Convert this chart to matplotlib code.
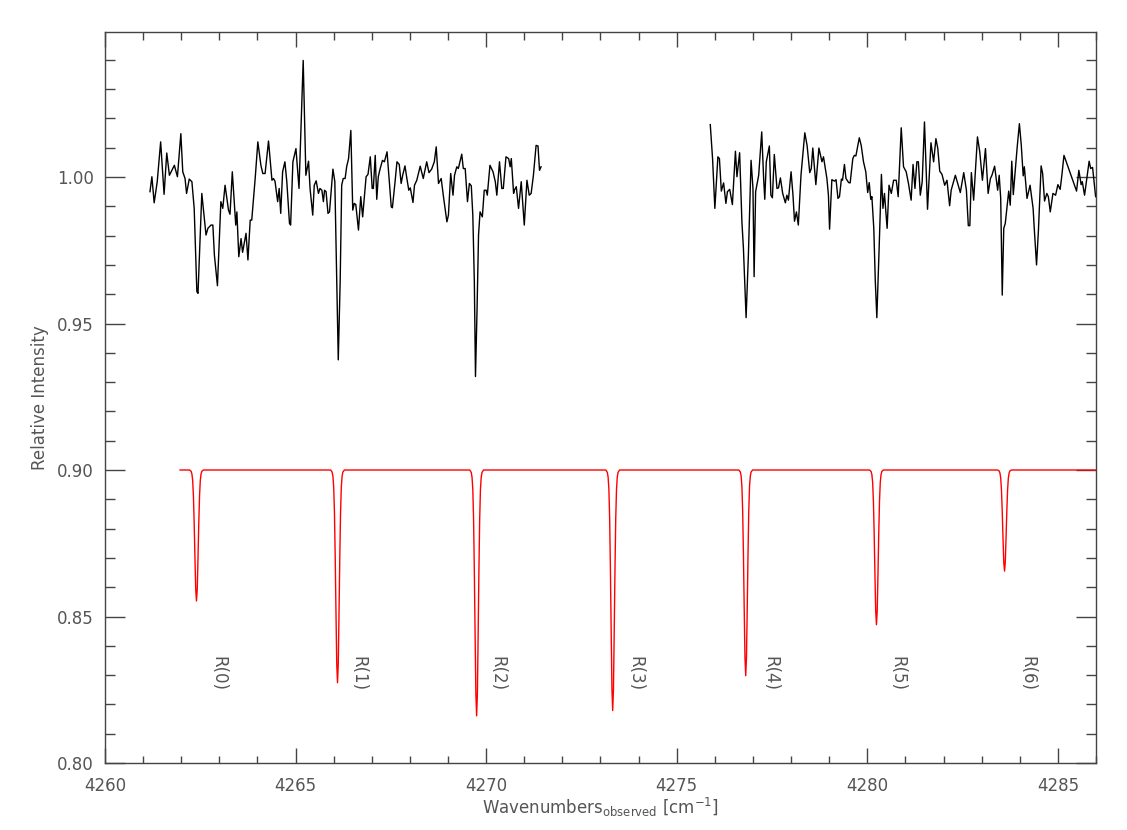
import numpy as np
import matplotlib
matplotlib.use("Agg")
import matplotlib.pyplot as plt
from matplotlib.ticker import MultipleLocator, FixedLocator

# ---------------- data ----------------
# observed spectrum, first segment
obs1_x = [4261.18, 4261.23, 4261.29, 4261.37, 4261.46, 4261.55, 4261.62, 4261.69, 4261.82, 4261.90,
          4261.99, 4262.04, 4262.10, 4262.14, 4262.21, 4262.28, 4262.34, 4262.41, 4262.44, 4262.54,
          4262.65, 4262.70, 4262.78, 4262.83, 4262.87, 4262.95, 4263.04, 4263.09, 4263.15, 4263.24,
          4263.28, 4263.34, 4263.43, 4263.46, 4263.51, 4263.57, 4263.61, 4263.70, 4263.75, 4263.81,
          4263.85, 4263.94, 4264.01, 4264.09, 4264.14, 4264.20, 4264.29, 4264.38, 4264.42, 4264.46,
          4264.53, 4264.57, 4264.61, 4264.66, 4264.72, 4264.77, 4264.84, 4264.87, 4264.93, 4265.01,
          4265.09, 4265.14, 4265.20, 4265.27, 4265.34, 4265.38, 4265.45, 4265.49, 4265.54, 4265.60,
          4265.64, 4265.69, 4265.73, 4265.76, 4265.80, 4265.85, 4265.89, 4265.98, 4266.03, 4266.08,
          4266.12, 4266.17, 4266.21, 4266.25, 4266.30, 4266.34, 4266.39, 4266.45, 4266.50, 4266.54,
          4266.58, 4266.65, 4266.71, 4266.76, 4266.85, 4266.90, 4266.96, 4267.01, 4267.04, 4267.09,
          4267.13, 4267.17, 4267.22, 4267.28, 4267.33, 4267.40, 4267.46, 4267.51, 4267.54, 4267.61,
          4267.66, 4267.72, 4267.77, 4267.81, 4267.87, 4267.92, 4267.97, 4268.01, 4268.08, 4268.12,
          4268.18, 4268.27, 4268.35, 4268.44, 4268.50, 4268.57, 4268.64, 4268.69, 4268.75, 4268.82,
          4268.88, 4268.97, 4269.01, 4269.07, 4269.13, 4269.17, 4269.23, 4269.27, 4269.36, 4269.40,
          4269.45, 4269.51, 4269.56, 4269.61, 4269.65, 4269.69, 4269.72, 4269.76, 4269.80, 4269.84,
          4269.90, 4269.95, 4270.00, 4270.03, 4270.10, 4270.18, 4270.24, 4270.28, 4270.35, 4270.41,
          4270.45, 4270.52, 4270.59, 4270.63, 4270.66, 4270.72, 4270.74, 4270.79, 4270.85, 4270.92,
          4271.00, 4271.07, 4271.13, 4271.18, 4271.24, 4271.31, 4271.36, 4271.40, 4271.44]
obs1_y = [0.9950, 1.0001, 0.9912, 0.9984, 1.0120, 0.9941, 1.0082, 1.0006, 1.0040, 1.0001,
          1.0148, 1.0018, 0.9995, 0.9944, 0.9993, 0.9984, 0.9893, 0.9609, 0.9603, 0.9944,
          0.9802, 0.9825, 0.9836, 0.9836, 0.9734, 0.9629, 0.9916, 0.9893, 0.9972, 0.9887,
          0.9873, 1.0018, 0.9836, 0.9881, 0.9728, 0.9790, 0.9743, 0.9808, 0.9717, 0.9853,
          0.9853, 0.9995, 1.0120, 1.0040, 1.0012, 1.0012, 1.0123, 0.9989, 0.9995, 0.9986,
          0.9916, 0.9961, 0.9876, 1.0018, 1.0052, 0.9984, 0.9842, 0.9836, 1.0052, 1.0097,
          0.9961, 1.0165, 1.0398, 1.0006, 1.0054, 0.9961, 0.9870, 0.9972, 0.9987, 0.9944,
          0.9961, 0.9955, 0.9916, 0.9955, 0.9950, 0.9876, 0.9881, 1.0027, 0.9984, 0.9643,
          0.9376, 0.9644, 0.9972, 0.9995, 0.9995, 1.0035, 1.0063, 1.0159, 0.9887, 0.9910,
          0.9906, 0.9819, 0.9933, 0.9864, 1.0001, 1.0009, 1.0069, 0.9961, 0.9961, 1.0074,
          0.9924, 1.0001, 1.0029, 1.0057, 1.0052, 1.0086, 0.9984, 0.9898, 0.9895, 0.9984,
          1.0052, 1.0043, 0.9978, 1.0006, 1.0038, 0.9995, 0.9955, 0.9963, 0.9913, 0.9972,
          0.9989, 1.0037, 0.9995, 1.0052, 1.0015, 1.0027, 1.0052, 1.0103, 0.9978, 0.9995,
          0.9933, 0.9847, 0.9870, 1.0012, 0.9938, 1.0006, 1.0035, 1.0029, 1.0078, 1.0029,
          1.0029, 0.9916, 0.9978, 0.9970, 0.9870, 0.9643, 0.9319, 0.9541, 0.9802, 0.9881,
          0.9864, 0.9955, 0.9955, 0.9938, 1.0040, 1.0018, 0.9984, 0.9938, 1.0052, 0.9961,
          0.9961, 1.0069, 1.0063, 1.0035, 1.0063, 0.9944, 0.9955, 0.9967, 0.9893, 0.9984,
          0.9836, 0.9989, 0.9938, 0.9944, 1.0006, 1.0108, 1.0106, 1.0023, 1.0035]

# observed spectrum, second segment
obs2_x = [4275.88, 4275.94, 4276.00, 4276.08, 4276.12, 4276.17, 4276.23, 4276.29, 4276.33, 4276.39,
          4276.46, 4276.54, 4276.58, 4276.65, 4276.71, 4276.75, 4276.82, 4276.88, 4276.95, 4277.00,
          4277.03, 4277.07, 4277.15, 4277.23, 4277.28, 4277.31, 4277.35, 4277.43, 4277.47, 4277.51,
          4277.56, 4277.63, 4277.67, 4277.72, 4277.78, 4277.85, 4277.89, 4277.93, 4278.00, 4278.05,
          4278.09, 4278.14, 4278.19, 4278.26, 4278.36, 4278.42, 4278.49, 4278.53, 4278.57, 4278.65,
          4278.73, 4278.81, 4278.85, 4278.94, 4278.98, 4279.01, 4279.07, 4279.14, 4279.18, 4279.23,
          4279.27, 4279.32, 4279.35, 4279.40, 4279.44, 4279.51, 4279.55, 4279.62, 4279.66, 4279.70,
          4279.79, 4279.84, 4279.90, 4279.96, 4280.01, 4280.05, 4280.09, 4280.12, 4280.17, 4280.21,
          4280.25, 4280.31, 4280.37, 4280.41, 4280.45, 4280.52, 4280.57, 4280.63, 4280.69, 4280.76,
          4280.81, 4280.89, 4280.95, 4281.02, 4281.08, 4281.15, 4281.20, 4281.25, 4281.30, 4281.34,
          4281.39, 4281.44, 4281.50, 4281.58, 4281.67, 4281.74, 4281.80, 4281.85, 4281.90, 4281.96,
          4282.03, 4282.09, 4282.16, 4282.20, 4282.31, 4282.44, 4282.53, 4282.60, 4282.65, 4282.69,
          4282.73, 4282.79, 4282.89, 4282.95, 4283.02, 4283.10, 4283.17, 4283.23, 4283.27, 4283.34,
          4283.42, 4283.46, 4283.50, 4283.54, 4283.58, 4283.62, 4283.71, 4283.75, 4283.79, 4283.83,
          4283.93, 4283.99, 4284.04, 4284.09, 4284.12, 4284.19, 4284.27, 4284.35, 4284.38, 4284.44,
          4284.49, 4284.56, 4284.60, 4284.65, 4284.71, 4284.75, 4284.80, 4284.87, 4284.94, 4285.00,
          4285.06, 4285.10, 4285.16, 4285.49, 4285.55, 4285.61, 4285.64, 4285.70, 4285.77, 4285.82,
          4285.86, 4285.91, 4285.95, 4285.99]
obs2_y = [1.0179, 1.0063, 0.9893, 1.0069, 1.0063, 0.9952, 0.9980, 0.9910, 0.9950, 0.9958,
          0.9906, 1.0088, 1.0001, 1.0083, 0.9847, 0.9756, 0.9520, 0.9734, 1.0057, 0.9961,
          0.9660, 0.9950, 1.0006, 1.0154, 0.9995, 0.9924, 1.0052, 1.0106, 0.9938, 0.9929,
          1.0077, 0.9961, 0.9963, 0.9997, 0.9944, 0.9912, 0.9938, 0.9921, 1.0018, 0.9938,
          0.9849, 0.9881, 0.9836, 1.0006, 1.0151, 1.0108, 1.0015, 1.0029, 1.0099, 0.9974,
          1.0099, 1.0052, 1.0069, 0.9995, 0.9938, 0.9822, 0.9991, 0.9986, 0.9991, 0.9927,
          0.9933, 0.9993, 0.9989, 1.0043, 0.9995, 0.9981, 0.9980, 1.0063, 1.0074, 1.0072,
          1.0134, 1.0108, 1.0052, 1.0018, 0.9947, 0.9981, 0.9924, 0.9933, 0.9825, 0.9643,
          0.9520, 0.9756, 1.0009, 0.9893, 0.9944, 0.9825, 0.9972, 0.9944, 0.9989, 0.9989,
          0.9933, 1.0168, 1.0035, 1.0018, 0.9978, 0.9921, 1.0043, 0.9961, 1.0052, 1.0052,
          0.9938, 0.9984, 1.0188, 0.9890, 1.0117, 1.0052, 1.0131, 1.0097, 1.0020, 1.0009,
          0.9972, 0.9989, 0.9902, 0.9955, 1.0006, 0.9947, 1.0015, 0.9955, 0.9834, 0.9834,
          1.0015, 0.9921, 1.0137, 1.0086, 0.9989, 1.0097, 0.9944, 0.9995, 1.0006, 1.0037,
          0.9955, 1.0006, 0.9927, 0.9597, 0.9825, 0.9842, 0.9952, 0.9904, 1.0054, 0.9940,
          1.0099, 1.0182, 1.0108, 1.0004, 1.0035, 0.9927, 0.9972, 0.9893, 0.9825, 0.9700,
          0.9819, 1.0038, 1.0012, 0.9918, 0.9944, 0.9933, 0.9881, 0.9944, 0.9938, 0.9974,
          0.9958, 1.0001, 1.0074, 0.9952, 1.0023, 0.9974, 0.9984, 0.9938, 1.0006, 1.0054,
          1.0029, 1.0033, 0.9984, 0.9933]

# model lines
line_labels = ["R(0)", "R(1)", "R(2)", "R(3)", "R(4)", "R(5)", "R(6)"]
line_centers = [4262.40, 4266.10, 4269.75, 4273.32, 4276.81, 4280.24, 4283.60]
line_minima = [0.8553, 0.8274, 0.8161, 0.8179, 0.8298, 0.8472, 0.8655]
model_baseline = 0.900
model_start = 4261.97
model_end = 4286.0
# half profile of a model line (offset from centre in cm-1, fraction of full depth)
profile_offset = [0.18, 0.14, 0.12, 0.10, 0.08, 0.06, 0.04, 0.02, 0.00]
profile_fraction = [0.00, 0.01, 0.03, 0.08, 0.20, 0.41, 0.67, 0.91, 1.00]
label_x = [4262.97, 4266.64, 4270.29, 4273.91, 4277.45, 4280.79, 4284.20]
label_y = 0.8305

# ---------------- build model curve ----------------
off = np.array(profile_offset)
frac = np.array(profile_fraction)
full_off = np.concatenate([-off, off[::-1][1:]])
full_frac = np.concatenate([frac, frac[::-1][1:]])
mx = [model_start]
my = [model_baseline]
for c, m in zip(line_centers, line_minima):
    mx.extend(c + full_off)
    my.extend(model_baseline - (model_baseline - m) * full_frac)
mx.append(model_end)
my.append(model_baseline)

# ---------------- figure ----------------
fig = plt.figure(figsize=(11.27, 8.30), dpi=100)
ax = fig.add_axes([105 / 1127, 1 - 763 / 830, (1096 - 105) / 1127, (763 - 32) / 830])

txt = "#555555"
ax.plot(obs1_x, obs1_y, color="black", lw=1.0)
ax.plot(obs2_x, obs2_y, color="black", lw=1.0)
ax.plot(mx, my, color="#ff0000", lw=1.0)

for lab, lx in zip(line_labels, label_x):
    ax.text(lx, label_y, lab, rotation=270, ha="center", va="center",
            fontsize=12, color=txt)

ax.set_xlim(4260, 4286)
ax.set_ylim(0.80, 1.0495)
ax.xaxis.set_major_locator(MultipleLocator(5))
ax.xaxis.set_minor_locator(MultipleLocator(1))
ax.yaxis.set_major_locator(FixedLocator([0.80, 0.85, 0.90, 0.95, 1.00]))
ax.yaxis.set_minor_locator(MultipleLocator(0.01))
ax.yaxis.set_major_formatter(matplotlib.ticker.FormatStrFormatter("%.2f"))

ax.tick_params(axis="both", which="both", direction="in", top=True, right=True,
               colors="#444444", labelcolor=txt, labelsize=12, width=1.0)
ax.tick_params(axis="x", which="major", length=10.8, pad=10)
ax.tick_params(axis="x", which="minor", length=5.4)
ax.tick_params(axis="y", which="major", length=14.4, pad=8)
ax.tick_params(axis="y", which="minor", length=7.2)
for s in ax.spines.values():
    s.set_color("#444444")
    s.set_linewidth(1.0)

ax.set_xlabel("Wavenumbers$_{\\mathrm{observed}}$ [cm$^{-1}$]", fontsize=12, color=txt, labelpad=1)
ax.set_ylabel("Relative Intensity", fontsize=12, color=txt, labelpad=6)

fig.savefig("out.png", dpi=100)
